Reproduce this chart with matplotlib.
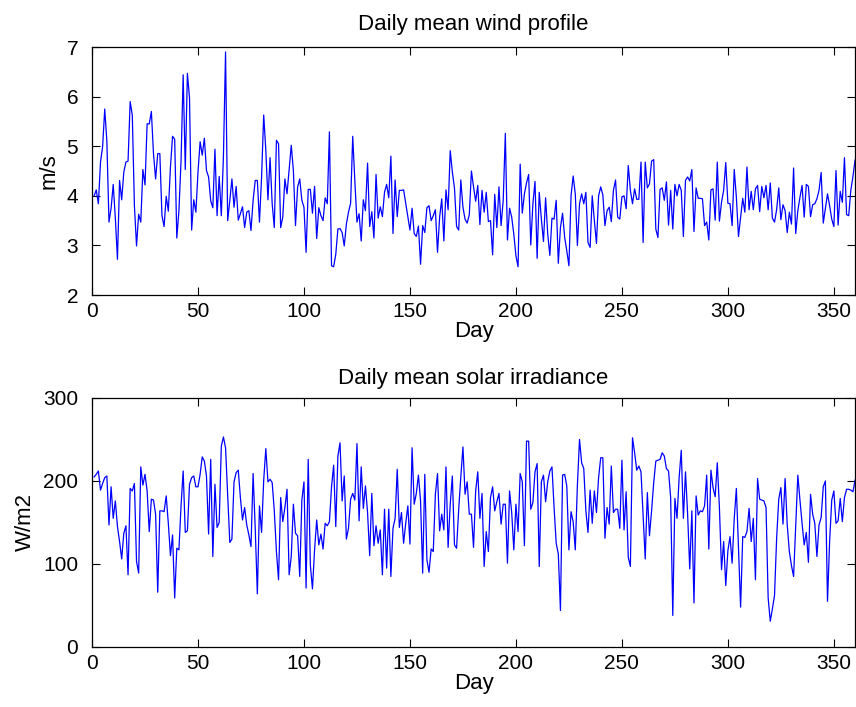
import numpy as np
from matplotlib import pyplot as plt

plt.rcParams['font.family'] = ['Liberation Sans', 'DejaVu Sans']

# Daily mean wind speed (m/s), days 1..360
wind = [
    4.0, 4.12, 3.84, 4.68, 4.99, 5.75, 5.1, 3.47, 3.75, 4.23,
    3.55, 2.72, 4.31, 3.92, 4.48, 4.68, 4.7, 5.9, 5.63, 3.8,
    2.99, 3.63, 3.47, 4.53, 4.22, 5.45, 5.45, 5.7, 4.85, 4.34,
    4.85, 4.85, 3.6, 3.38, 3.99, 3.69, 4.58, 5.2, 5.14, 3.15,
    3.7, 4.7, 6.44, 4.53, 6.47, 5.97, 3.31, 3.92, 3.67, 4.48,
    5.09, 4.82, 5.16, 4.51, 4.38, 3.9, 3.76, 4.94, 3.6, 4.39,
    3.6, 4.8, 6.9, 3.50, 3.90, 4.34, 3.77, 4.19, 3.51, 3.64,
    3.78, 3.36, 3.67, 3.70, 3.30, 3.91, 4.31, 4.31, 3.47, 4.38,
    5.63, 4.92, 3.92, 4.77, 3.84, 3.36, 5.12, 5.05, 3.36, 3.57,
    4.34, 4.04, 4.53, 5.02, 4.51, 3.40, 4.18, 4.34, 3.91, 3.77,
    2.86, 4.13, 4.13, 3.65, 4.19, 3.14, 3.76, 3.60, 3.50, 3.96,
    3.84, 5.29, 2.59, 2.57, 2.82, 3.33, 3.34, 3.26, 2.99, 3.43,
    3.67, 3.85, 5.20, 4.3, 3.47, 3.64, 3.09, 3.92, 3.70, 4.66,
    3.38, 3.68, 3.15, 4.43, 3.55, 3.78, 3.58, 4.07, 4.23, 3.96,
    4.80, 3.24, 4.32, 3.58, 4.11, 4.11, 4.12, 3.85, 3.57, 3.31,
    3.75, 3.24, 3.18, 3.39, 2.62, 3.40, 3.26, 3.76, 3.80, 3.50,
    3.60, 3.72, 2.86, 3.57, 3.94, 3.09, 4.12, 3.72, 4.91, 4.48,
    4.16, 3.38, 3.31, 4.32, 3.77, 3.53, 3.45, 3.62, 4.50, 4.18,
    3.89, 4.21, 3.42, 4.11, 3.67, 4.07, 3.48, 3.5, 2.81, 4.03,
    3.36, 4.18, 3.40, 3.91, 5.26, 3.11, 3.75, 3.57, 3.23, 2.79,
    2.57, 4.64, 3.65, 4.04, 4.26, 4.43, 3.01, 3.84, 4.29, 2.74,
    4.07, 3.53, 3.08, 3.96, 3.23, 2.80, 3.55, 3.53, 3.91, 2.64,
    3.36, 3.65, 3.16, 2.89, 2.59, 4.0, 4.40, 4.04, 3.0, 3.84,
    4.04, 3.84, 4.07, 3.06, 2.96, 4.0, 3.5, 3.04, 4.0, 4.18,
    4.02, 3.40, 3.70, 3.77, 3.48, 4.11, 4.32, 3.57, 3.53, 3.98,
    4.0, 3.74, 4.61, 4.11, 3.84, 4.14, 3.93, 3.93, 4.68, 3.06,
    4.68, 4.16, 4.24, 4.70, 4.73, 3.33, 3.16, 4.13, 4.16, 3.91,
    4.28, 3.41, 4.11, 3.33, 4.23, 4.0, 4.23, 4.11, 3.18, 4.31,
    4.38, 4.30, 4.53, 3.28, 4.16, 3.95, 3.95, 3.94, 3.40, 3.47,
    3.11, 4.12, 4.14, 3.51, 4.68, 3.49, 3.87, 4.11, 4.67, 3.85,
    3.84, 3.40, 4.53, 3.97, 3.18, 3.57, 3.95, 3.67, 4.58, 3.72,
    4.09, 3.72, 4.14, 4.21, 3.68, 4.19, 3.96, 4.21, 3.72, 4.26,
    3.55, 3.47, 3.72, 4.16, 3.52, 3.82, 3.70, 3.26, 3.67, 3.43,
    4.56, 3.24, 3.70, 3.97, 4.21, 3.57, 4.23, 4.19, 3.58, 3.82,
    3.84, 3.94, 4.11, 4.47, 3.45, 3.74, 4.04, 3.80, 3.53, 3.38,
    4.51, 3.41, 4.09, 3.87, 4.77, 3.62, 3.60, 4.11, 4.39, 4.72,
]

# Daily mean solar irradiance (W/m2), days 1..360
solar = [
    205, 208, 212, 189, 197, 204, 206, 147, 193, 155,
    176, 145, 127, 106, 137, 146, 87, 191, 188, 197,
    103, 89, 217, 195, 208, 188, 139, 178, 177, 160,
    66, 164, 164, 163, 182, 149, 110, 135, 59, 119,
    117, 170, 212, 138, 140, 196, 204, 206, 193, 193,
    208, 229, 224, 206, 136, 226, 109, 196, 144, 150,
    242, 253, 240, 182, 126, 130, 199, 210, 213, 180,
    153, 168, 147, 135, 121, 209, 143, 64, 170, 138,
    201, 239, 199, 202, 198, 164, 115, 81, 180, 151,
    168, 190, 87, 109, 172, 137, 134, 85, 177, 199,
    71, 226, 99, 70, 117, 153, 123, 136, 118, 149,
    146, 151, 193, 219, 145, 230, 246, 176, 206, 130,
    143, 178, 185, 177, 245, 152, 217, 167, 194, 162,
    110, 185, 122, 146, 125, 141, 87, 166, 95, 166,
    85, 143, 155, 214, 144, 162, 125, 149, 170, 124,
    240, 172, 185, 207, 176, 89, 208, 105, 90, 118,
    115, 184, 209, 140, 160, 141, 217, 120, 172, 206,
    123, 119, 166, 205, 241, 184, 199, 160, 160, 120,
    188, 211, 155, 185, 97, 139, 115, 180, 193, 164,
    175, 185, 148, 172, 172, 101, 188, 162, 117, 172,
    139, 209, 199, 122, 248, 248, 166, 174, 211, 221,
    97, 199, 207, 175, 199, 212, 217, 168, 125, 112,
    44, 207, 208, 194, 117, 163, 151, 117, 195, 250,
    222, 215, 164, 138, 189, 149, 188, 162, 204, 228,
    228, 131, 168, 148, 218, 162, 166, 166, 143, 225,
    141, 187, 108, 97, 252, 234, 213, 218, 211, 158,
    106, 186, 134, 164, 198, 224, 225, 226, 234, 230,
    215, 212, 180, 38, 179, 155, 204, 237, 155, 211,
    160, 94, 164, 53, 182, 159, 164, 163, 170, 207,
    118, 213, 192, 181, 222, 168, 93, 127, 74, 116,
    133, 101, 155, 191, 120, 48, 133, 132, 139, 167,
    127, 155, 81, 203, 178, 177, 176, 168, 59, 31,
    46, 62, 131, 178, 192, 148, 203, 147, 115, 98,
    85, 147, 207, 177, 149, 123, 138, 102, 184, 160,
    149, 109, 147, 156, 193, 200, 55, 127, 177, 188,
    149, 152, 179, 151, 180, 190, 190, 189, 187, 201,
]

days = np.arange(1, len(wind) + 1)
xticks = [0, 50, 100, 150, 200, 250, 300, 350]

fig = plt.figure(figsize=(8.56, 7.07), dpi=100)
ax1 = fig.add_axes([0.1075, 0.5827, 0.8914, 0.3508])
ax2 = fig.add_axes([0.1075, 0.0849, 0.8914, 0.3522])

ax1.plot(days, wind, color='#0000ff', lw=0.9)
ax1.set_xlim(0, 360)
ax1.set_ylim(2, 7)
ax1.set_yticks([2, 3, 4, 5, 6, 7])
ax1.set_title('Daily mean wind profile', fontsize=16, pad=12)
ax1.set_ylabel('m/s', fontsize=16, labelpad=5)
ax1.set_xlabel('Day', fontsize=16, labelpad=0)

ax2.plot(days, solar, color='#0000ff', lw=0.9)
ax2.set_xlim(0, 360)
ax2.set_ylim(0, 300)
ax2.set_yticks([0, 100, 200, 300])
ax2.set_title('Daily mean solar irradiance', fontsize=16, pad=10)
ax2.set_ylabel('W/m2', fontsize=16, labelpad=5)
ax2.set_xlabel('Day', fontsize=16, labelpad=0)

for ax in (ax1, ax2):
    ax.set_xticks(xticks)
    ax.tick_params(direction='in', top=True, right=True, length=6, width=0.8,
                   labelsize=15)
    ax.tick_params(axis='y', pad=10)
    ax.tick_params(axis='x', pad=5)
    for s in ax.spines.values():
        s.set_linewidth(0.9)

fig.savefig('out.png', dpi=100)
